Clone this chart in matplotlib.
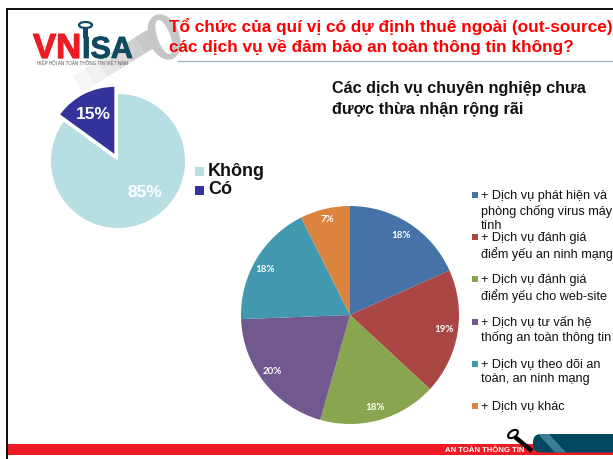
import matplotlib
matplotlib.use("Agg")
import matplotlib.pyplot as plt
import matplotlib.patheffects as pe
from matplotlib.patches import Rectangle, FancyBboxPatch, Polygon, Ellipse

plt.rcParams['font.family'] = ['Liberation Sans', 'DejaVu Sans']

W, H = 613, 459
answer_labels = ["Không", "Có"]
answer_values = [85, 15]
answer_colors = ["#B7DEE2", "#333399"]

service_labels = [
    "+ Dịch vụ phát hiện và\nphòng chống virus máy\ntính",
    "+ Dịch vụ đánh giá\nđiểm yếu an ninh mạng",
    "+ Dịch vụ đánh giá\nđiểm yếu cho web-site",
    "+ Dịch vụ tư vấn hệ\nthống an toàn thông tin",
    "+ Dịch vụ theo dõi an\ntoàn, an ninh mạng",
    "+ Dịch vụ khác",
]
service_values = [18.3, 18.6, 17.5, 20.0, 18.2, 7.4]
service_colors = ["#4572A7", "#AA4643", "#89A54E", "#71588F", "#4198AF", "#DB843D"]
legend_y = [195, 237, 279, 322, 364, 406]

title = "Tổ chức của quí vị có dự định thuê ngoài (out-source)\ncác dịch vụ về đảm bảo an toàn thông tin không?"
subtitle = "Các dịch vụ chuyên nghiệp chưa\nđược thừa nhận rộng rãi"

fig = plt.figure(figsize=(W / 100, H / 100), dpi=100, facecolor="white")

# page layer in pixel coordinates (y down)
bg = fig.add_axes([0, 0, 1, 1])
bg.set_xlim(0, W); bg.set_ylim(H, 0); bg.axis("off")

# frame
bg.add_patch(Rectangle((5.5, 8), 608, 2.2, color="#111111", lw=0))
bg.add_patch(Rectangle((5.5, 8), 2, 451, color="#111111", lw=0))

# fading key shaft behind the logo
shaft_greys = ["#F7F7F7", "#F0F0F0", "#E6E6E6", "#DADADA", "#CFCFCF", "#C8C8C8"]
x0, y0, x1, y1 = 78.0, 84.0, 152.0, 38.0
for i, g in enumerate(shaft_greys):
    a, b = i / 6, (i + 1) / 6
    ax_, ay_ = x0 + (x1 - x0) * a, y0 + (y1 - y0) * a
    bx_, by_ = x0 + (x1 - x0) * b, y0 + (y1 - y0) * b
    bg.add_patch(Polygon([(ax_ - 5, ay_ - 8), (bx_ - 5, by_ - 8), (bx_ + 5, by_ + 8), (ax_ + 5, ay_ + 8)],
                         closed=True, color=g, lw=0))
bg.add_patch(Ellipse((164, 37), 31, 47, angle=-20, fc="#C6C6C6", ec="none"))
bg.add_patch(Ellipse((164, 37), 13, 36, angle=-20, fc="white", ec="none"))

# logo
stroke = [pe.withStroke(linewidth=0.9, foreground="#ED1C24")]
bg.text(33, 58, "VN", color="#ED1C24", fontsize=25, fontweight="bold", va="baseline", path_effects=stroke)
bg.text(82, 58, "ISA", color="#0F4A61", fontsize=22, fontweight="bold", va="baseline",
        path_effects=[pe.withStroke(linewidth=0.6, foreground="#0F4A61")])
bg.add_patch(Ellipse((85.5, 25), 13, 6, fc="none", ec="#0F4A61", lw=1.6))
bg.add_patch(Rectangle((83, 28), 5, 10, color="#0F4A61", lw=0))
bg.text(37, 62.5, "HIỆP HỘI AN TOÀN THÔNG TIN VIỆT NAM", color="#555555", fontsize=3.3, va="center")

# title and rule
bg.plot([178, 613], [60.5, 60.5], color="#9DB4C0", lw=0.9)
bg.text(169, 36.5, title, color="#FF0000", fontsize=12.4, fontweight="bold", va="center", ha="left", linespacing=1.3)
bg.text(332, 99, subtitle, color="#111111", fontsize=11.7, fontweight="bold", va="center", ha="left", linespacing=1.55)

# footer
bg.add_patch(Rectangle((7.5, 444), 606, 10.5, color="#ED1C24", lw=0))
bg.add_patch(FancyBboxPatch((533, 434), 100, 18.5, boxstyle="round,pad=0,rounding_size=8", fc="#004762", ec="none"))
bg.add_patch(Polygon([(538, 434), (549, 434), (566, 452.5), (555, 452.5)], closed=True, color="#3B7C93", lw=0))
bg.plot([515, 532], [437, 451], color="black", lw=3.2, solid_capstyle="butt")
bg.add_patch(Ellipse((513, 434), 11, 6.5, angle=-35, fc="white", ec="black", lw=1.5))
bg.text(445, 450, "AN TOÀN THÔNG TIN", color="white", fontsize=5.6, fontweight="bold", va="center")


def pie_axes(cx, cy, half):
    ax = fig.add_axes([(cx - half) / W, 1 - (cy + half) / H, 2 * half / W, 2 * half / H])
    ax.patch.set_alpha(0)
    return ax


# left pie
ax1 = pie_axes(118, 161, 100)
w1, t1 = ax1.pie(answer_values, colors=answer_colors, startangle=90, counterclock=False,
                 explode=[0, 0.08], radius=0.67)
for w, v, px, py in zip(w1, answer_values, [145, 93], [193, 115]):
    w.set_edgecolor("none")
    ax1.text((px - 118) / 100, (161 - py) / 100, f"{v}%", color="white", fontsize=12.5,
             fontweight="bold", ha="center", va="center")
ax1.set_xlim(-1, 1); ax1.set_ylim(-1, 1)

# left legend
for lab, col, y in zip(answer_labels, answer_colors, [171, 190]):
    bg.add_patch(Rectangle((195, y - 4.5), 9, 9, color=col, lw=0))
    bg.text(208, y, lab, color="#111111", fontsize=13, fontweight="bold", va="center", ha="left")

# right pie
ax2 = pie_axes(350, 315, 125)
w2, t2 = ax2.pie(service_values, colors=service_colors, startangle=90, counterclock=False,
                 radius=109 / 125)
for w, v, px, py in zip(w2, service_values,
                        [401, 444, 375, 272, 265, 327], [235, 329, 408, 372, 269, 219]):
    w.set_edgecolor("none")
    ax2.text((px - 350) / 125, (315 - py) / 125, f"{v:.0f}%", color="white", fontsize=7,
             fontweight="bold", ha="center", va="center", family=['Lato', 'DejaVu Sans'])
ax2.set_xlim(-1, 1); ax2.set_ylim(-1, 1)

# right legend
for lab, col, y in zip(service_labels, service_colors, legend_y):
    bg.add_patch(Rectangle((471.5, y - 3), 6, 6, color=col, lw=0))
    bg.text(481, y - 5.5, lab, color="#111111", fontsize=9.1, va="top", ha="left", linespacing=1.3)

fig.savefig("out.png", dpi=100)
